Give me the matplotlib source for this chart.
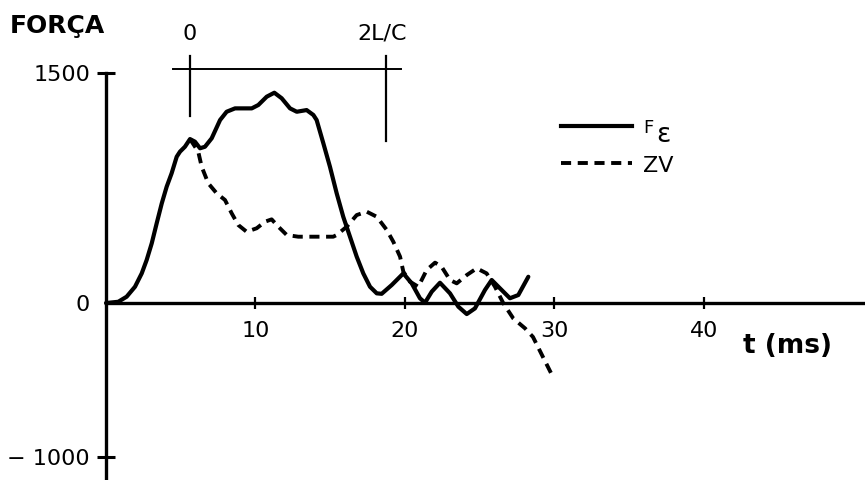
import matplotlib
matplotlib.use("Agg")
import matplotlib.pyplot as plt
from matplotlib.lines import Line2D

# Measured force F(epsilon) at the pile head, time in ms
t_force = [0.0, 0.82, 1.38, 1.94, 2.39, 2.72, 3.06, 3.39, 3.73, 4.06, 4.39,
           4.73, 4.95, 5.28, 5.62, 5.95, 6.29, 6.62, 7.07, 7.63, 8.07, 8.63,
           9.75, 10.19, 10.75, 11.26, 11.75, 12.31, 12.76, 13.42, 13.87,
           14.09, 14.54, 14.98, 15.43, 15.87, 16.32, 16.77, 17.21, 17.66,
           18.11, 18.44, 19.11, 19.89, 20.45, 21.00, 21.34, 21.79, 22.34,
           23.01, 23.57, 24.13, 24.68, 25.35, 25.80, 26.35, 27.02, 27.58,
           28.25]
force = [0, 8, 41, 106, 193, 280, 389, 519, 649, 758, 845,
         953, 986, 1018, 1068, 1051, 1008, 1018, 1073, 1192, 1246, 1268,
         1268, 1290, 1344, 1370, 1334, 1268, 1246, 1257, 1225,
         1192, 1040, 888, 715, 562, 432, 302, 193, 106,
         63, 60, 117, 193, 128, 31, 2, 74, 132,
         63, -24, -72, -35, 85, 150, 96, 31, 52,
         171]

# Velocity times impedance, Z*V
t_zv = [5.62, 6.17, 6.40, 6.84, 7.40, 7.96, 8.41, 8.85, 9.41, 10.08, 10.64,
        11.08, 11.53, 12.09, 12.86, 14.20, 15.20, 15.43, 16.10, 16.77,
        17.44, 18.11, 18.78, 19.22, 19.67, 19.89, 20.33, 20.89, 21.45,
        22.01, 22.45, 23.01, 23.46, 24.13, 24.80, 25.46, 26.02, 26.58,
        27.24, 28.03, 28.56, 29.23, 29.90]
zv = [1068, 986, 888, 780, 715, 671, 584, 508, 464, 487, 530,
      545, 497, 443, 432, 432, 432, 443, 497, 573,
      595, 562, 476, 399, 302, 204, 139, 106, 215,
      263, 236, 150, 128, 182, 226, 193, 106, -2,
      -100, -165, -221, -352, -482]

x_ticks = [10, 20, 30, 40]
y_ticks = [-1000, 0, 1500]
y_tick_labels = ["\u2212 1000", "0", "1500"]

# Wave travel window: arrival (0) and return after 2L/c
t_arrival = 5.6
t_return = 18.7

W, H = 865, 480
fig = plt.figure(figsize=(W / 100, H / 100), dpi=100)
ax = fig.add_axes([0, 0, 1, 1])
ax.set_xlim(-7.09, 50.77)
ax.set_ylim(-1153, 1974)

for s in ("top", "right"):
    ax.spines[s].set_visible(False)
ax.spines["left"].set_position(("data", 0))
ax.spines["bottom"].set_position(("data", 0))
ax.spines["left"].set_bounds(-1153, 1500)
ax.spines["bottom"].set_bounds(0, 50.77)
ax.spines["left"].set_linewidth(2.4)
ax.spines["bottom"].set_linewidth(2.4)

num_font = dict(family="DejaVu Sans", size=16)
ax.set_xticks(x_ticks)
ax.set_xticklabels([str(v) for v in x_ticks], **num_font)
ax.set_yticks(y_ticks)
ax.set_yticklabels(y_tick_labels, **num_font)
ax.tick_params(axis="x", direction="inout", length=8, width=1.6, pad=9)
ax.tick_params(axis="y", direction="inout", length=13, width=2.2, pad=5)
ax.yaxis.get_major_ticks()[1].tick1line.set_visible(False)

ax.plot(t_force, force, color="black", lw=3.0,
        solid_joinstyle="round", solid_capstyle="round")
ax.plot(t_zv, zv, color="black", lw=2.8, linestyle=(0, (2.6, 1.7)),
        dash_joinstyle="round")

# 2L/c window marker above the curves
ax.plot([4.5, 19.7], [1522, 1522], color="black", lw=1.4)
ax.plot([t_arrival, t_arrival], [1610, 1221], color="black", lw=1.6)
ax.plot([t_return, t_return], [1610, 1058], color="black", lw=1.6)
ax.text(t_arrival, 1690, "0", ha="center", va="bottom", fontsize=16)
ax.text(t_return - 0.2, 1690, "2L/C", ha="center", va="bottom", fontsize=16)


def px(x, y):
    return x / W, 1 - y / H


fig.text(*px(10, 33), "FORÇA", fontsize=18, fontweight="bold", va="baseline")
fig.text(*px(743, 353), "t (ms)", fontsize=19, fontweight="bold", va="baseline")

# legend
fig.add_artist(Line2D([561 / W, 632 / W], [1 - 126 / H] * 2, color="black", lw=3.0))
fig.add_artist(Line2D([561 / W, 632 / W], [1 - 163 / H] * 2, color="black", lw=2.8,
                      linestyle=(0, (2.6, 1.7))))
fig.text(*px(643, 133), "F", fontsize=13, va="baseline")
fig.text(*px(656, 142), "\u03b5", fontsize=19, va="baseline")
fig.text(*px(643, 172), "ZV", fontsize=16, va="baseline")

fig.savefig("out.png", dpi=100)
